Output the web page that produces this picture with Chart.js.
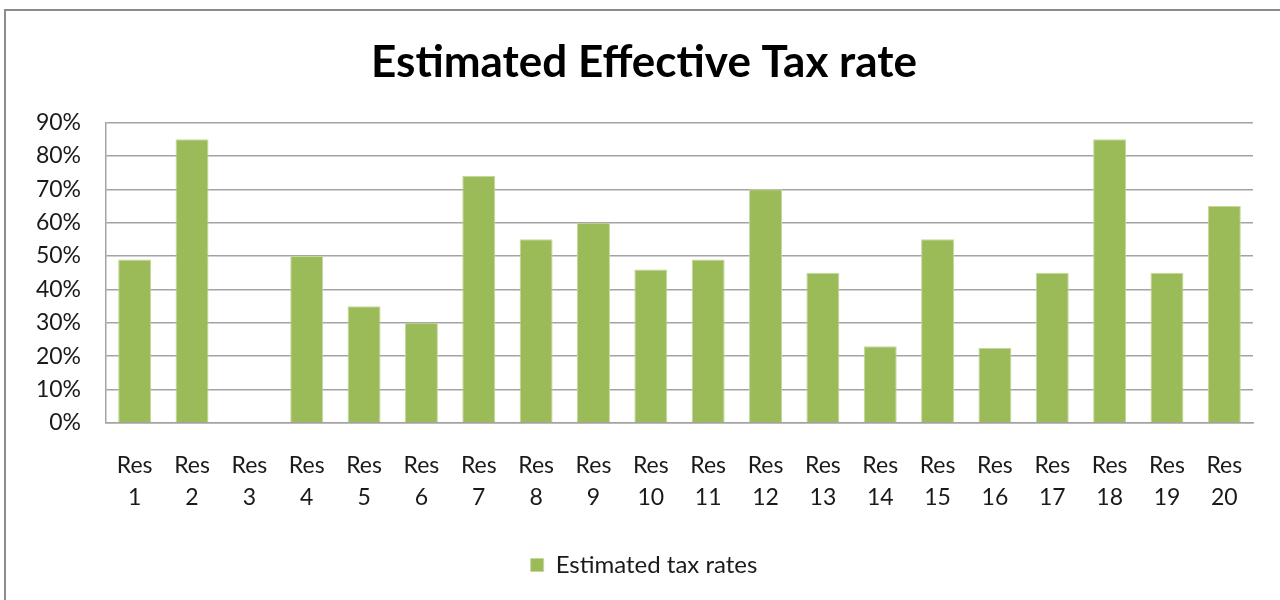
<!DOCTYPE html>
<html>
<head>
<meta charset="utf-8">
<title>Estimated Effective Tax rate</title>
<script src="https://cdn.jsdelivr.net/npm/chart.js@4/dist/chart.umd.min.js"></script>
<style>
  html, body { margin: 0; padding: 0; background: #ffffff; }
  #chart { display: block; }
</style>
</head>
<body>
<canvas id="chart" width="1280" height="600"></canvas>
<script>
// Residences along the category axis
const categories = [
  ['Res', '1'], ['Res', '2'], ['Res', '3'], ['Res', '4'], ['Res', '5'],
  ['Res', '6'], ['Res', '7'], ['Res', '8'], ['Res', '9'], ['Res', '10'],
  ['Res', '11'], ['Res', '12'], ['Res', '13'], ['Res', '14'], ['Res', '15'],
  ['Res', '16'], ['Res', '17'], ['Res', '18'], ['Res', '19'], ['Res', '20']
];

// Estimated effective tax rate per residence (fraction)
const taxRates = [
  0.49, 0.85, 0, 0.50, 0.35, 0.30, 0.74, 0.55, 0.60, 0.46,
  0.49, 0.70, 0.45, 0.23, 0.55, 0.225, 0.45, 0.85, 0.45, 0.65
];

// Value axis tick labels
const yTickLabels = ['0%', '10%', '20%', '30%', '40%', '50%', '60%', '70%', '80%', '90%'];

const seriesName = 'Estimated tax rates';
const chartTitle = 'Estimated Effective Tax rate';

// Frame drawn around the chart, plus white background
const framePlugin = {
  id: 'frame',
  beforeDraw(chart) {
    const ctx = chart.ctx;
    ctx.save();
    ctx.fillStyle = '#ffffff';
    ctx.fillRect(0, 0, chart.width, chart.height);
    ctx.strokeStyle = '#8c8c8c';
    ctx.lineWidth = 2;
    ctx.strokeRect(5, 10, chart.width + 20, chart.height + 20);
    ctx.restore();
  }
};

const textColor = '#1a1a1a';
const gridColor = '#a3a3a3';

new Chart(document.getElementById('chart'), {
  type: 'bar',
  data: {
    labels: categories,
    datasets: [{
      label: seriesName,
      data: taxRates,
      backgroundColor: '#9bbb59',
      borderColor: '#c4d89c',
      borderWidth: 1,
      categoryPercentage: 1.0,
      barPercentage: 0.575
    }]
  },
  options: {
    responsive: false,
    animation: false,
    devicePixelRatio: 1,
    layout: { padding: { top: 10, left: 35, right: 27, bottom: 13 } },
    plugins: {
      title: {
        display: true,
        text: chartTitle,
        color: '#000000',
        font: { family: 'Lato', size: 44, weight: 'bold' },
        padding: { top: 26, bottom: 33.7 }
      },
      legend: {
        display: true,
        position: 'bottom',
        labels: {
          color: textColor,
          font: { family: 'Lato', size: 24 },
          boxWidth: 13,
          boxHeight: 13,
          padding: 9
        }
      },
      tooltip: { enabled: false }
    },
    scales: {
      x: {
        grid: { display: false, drawTicks: false },
        border: { display: true, color: gridColor, width: 1.5 },
        ticks: {
          color: textColor,
          font: { family: 'Lato', size: 23, lineHeight: 1.37 },
          padding: 27,
          maxRotation: 0,
          autoSkip: false
        },
        afterFit(scale) { scale.height = 121; }
      },
      y: {
        min: 0,
        max: 0.9,
        grid: { color: gridColor, lineWidth: 1.5, drawTicks: false },
        border: { display: true, color: gridColor, width: 1.5 },
        ticks: {
          stepSize: 0.1,
          color: textColor,
          font: { family: 'Lato', size: 23 },
          padding: 25,
          callback(value, index) { return yTickLabels[index]; }
        },
        afterFit(scale) { scale.width = 71; }
      }
    }
  },
  plugins: [framePlugin]
});
</script>
</body>
</html>
